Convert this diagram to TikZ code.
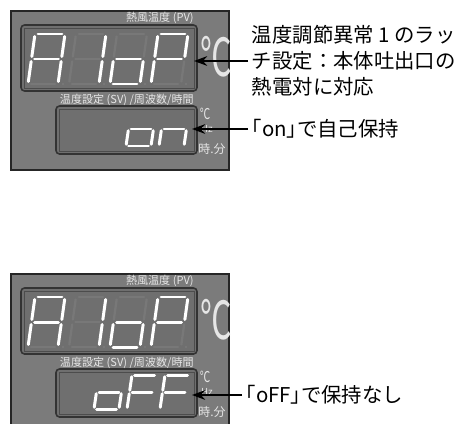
\documentclass[tikz,border=0pt]{standalone}
\usepackage{fontspec}
\setmainfont{Noto Sans CJK JP}
\newfontfamily\haltfont{Noto Sans CJK JP}[RawFeature=+halt]
\usetikzlibrary{arrows.meta}

\definecolor{panelgray}{HTML}{7B7B7B}
\definecolor{dispgray}{HTML}{6F6F6F}
\definecolor{ghostgray}{HTML}{787878}
\definecolor{labelgray}{HTML}{E6E6E6}

\tikzset{
  panel/.style={fill=panelgray, draw=black!85, line width=0.6pt},
  dispframe/.style={fill=dispgray, draw=black!80, line width=0.9pt, rounded corners=2pt},
  dispinner/.style={draw=black!70, line width=0.5pt},
  litseg/.style={draw=white, line width=1.7pt, line cap=round},
  ghostseg/.style={draw=ghostgray, line width=1.3pt, line cap=round},
  paneltext/.style={text=labelgray, inner sep=0pt},
  note/.style={font=\fontsize{11.6}{14.8}\selectfont, align=left, inner xsep=2pt, inner ysep=0pt, anchor=west},
  keepnote/.style={note, font=\haltfont\fontsize{11.6}{14.8}\selectfont},
  pointer/.style={-{Stealth[length=7.5pt,width=5.5pt]}, line width=1.1pt},
}

% one segment of a 7-segment digit, in a unit box
\newcommand{\digitseg}[2]{%
  \if#2a\draw[#1] (0.1,1) -- (0.9,1);\fi
  \if#2b\draw[#1] (1,0.95) -- (1,0.55);\fi
  \if#2c\draw[#1] (1,0.45) -- (1,0.05);\fi
  \if#2d\draw[#1] (0.1,0) -- (0.9,0);\fi
  \if#2e\draw[#1] (0,0.45) -- (0,0.05);\fi
  \if#2f\draw[#1] (0,0.95) -- (0,0.55);\fi
  \if#2g\draw[#1] (0.1,0.5) -- (0.9,0.5);\fi}

% x0, y bottom, width, height, slant, lit segments
\newcommand{\litdigit}[6]{%
  \begin{scope}[cm={#3,0,-#5,-#4,(#1,#2)}]
    \foreach \s in {#6} {\digitseg{litseg}{\s}}
  \end{scope}}

\begin{document}
\begin{tikzpicture}[x=0.02cm, y=-0.02cm]
\useasboundingbox (0,0) rectangle (463,423);
\clip (0,0) rectangle (463,423);

\foreach \n/\dy in {1/0, 2/263} {
  \begin{scope}[shift={(0,\dy)}]
    \draw[panel] (11,11) rectangle (229,170);
    \draw[dispframe] (21,25) rectangle (197,91);
    \draw[dispinner] (24,28) rectangle (194,88);
    \draw[dispframe] (56,106) rectangle (197,154);
    \draw[dispinner] (59,109) rectangle (194,151);
    \node[paneltext, anchor=east, font=\fontsize{6.3}{7}\selectfont] (pv\n) at (194,18) {熱風温度 (PV)};
    \node[paneltext, anchor=east, font=\fontsize{6.3}{7}\selectfont] (sv\n) at (194,100) {温度設定 (SV) /周波数/時間};
    \node[paneltext, font=\fontsize{30}{30}\selectfont] (degbig\n) at (216,57) {\scalebox{0.6}[1]{℃}};
    \node[paneltext, font=\fontsize{8.5}{9}\selectfont] (degsmall\n) at (205,114) {\scalebox{0.7}[1]{℃}};
    \node[paneltext, font=\fontsize{5.5}{6}\selectfont] (hz\n) at (207,129) {Hz};
    \node[paneltext, font=\fontsize{6.8}{7}\selectfont] (hm\n) at (212,149) {時.分};
    % unlit segments
    \foreach \cx in {28,69,110,151} {
      \begin{scope}[cm={30,0,-7,-50,(\cx,84)}]
        \foreach \s in {a,b,c,d,e,f,g} {\digitseg{ghostseg}{\s}}
      \end{scope}
      \fill[ghostgray] (\cx+35,84) circle (1.3);
    }
    % A1oP
    \litdigit{28}{84}{30}{50}{7}{a,b,c,e,f,g}
    \litdigit{69}{84}{30}{50}{7}{b,c}
    \litdigit{110}{84}{30}{50}{7}{c,d,e,g}
    \litdigit{151}{84}{30}{50}{7}{a,b,e,f,g}
  \end{scope}
}

% on
\litdigit{126}{146}{25}{34}{5}{c,d,e,g}
\litdigit{159}{146}{25}{34}{5}{c,e,g}
% oFF
\litdigit{94}{409}{25}{34}{5}{c,d,e,g}
\litdigit{127}{409}{25}{34}{5}{a,e,f,g}
\litdigit{160}{409}{25}{34}{5}{a,e,f,g}

\node[note] (latch) at (248,61) {温度調節異常 1 のラッ\\チ設定：本体吐出口の\\熱電対に対応};
\node[keepnote] (keep) at (248,129) {「on」で自己保持};
\node[keepnote] (nokeep) at (242,395) {「oFF」で保持なし};

\coordinate (pvtip) at (194,61);
\coordinate (svtip) at (192,129);
\coordinate (offtip) at (192,395);
\draw[pointer] (latch.west) -- (pvtip);
\draw[pointer] (keep.west) -- (svtip);
\draw[pointer] (nokeep.west) -- (offtip);
\end{tikzpicture}
\end{document}
